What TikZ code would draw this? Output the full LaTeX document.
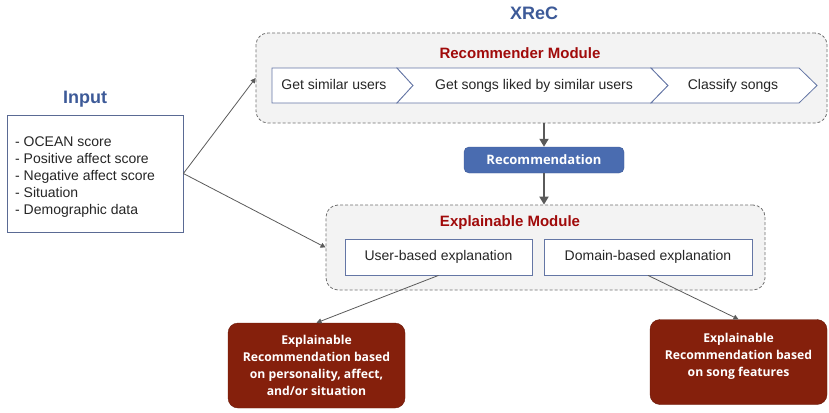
\documentclass[tikz,border=0pt]{standalone}
\usepackage{fontspec}
\setmainfont{Liberation Sans}
\newfontfamily\osans{Open Sans}
\usetikzlibrary{arrows.meta}
\definecolor{xblue}{RGB}{61,90,152}
\definecolor{xred}{RGB}{160,10,10}
\definecolor{berry}{RGB}{133,32,12}
\definecolor{recblue}{RGB}{74,108,176}
\definecolor{edgeblue}{RGB}{100,118,165}
\definecolor{modfill}{RGB}{243,243,243}
\definecolor{modline}{RGB}{110,110,110}
\definecolor{arrgray}{RGB}{90,90,90}

\begin{document}
\begin{tikzpicture}[x=1pt,y=-1pt,
		title/.style={font=\fontsize{18}{20}\selectfont\bfseries,text=xblue},
		modtitle/.style={font=\fontsize{15}{18}\selectfont\bfseries,text=xred},
		module/.style={draw=modline,fill=modfill,dash pattern=on 3pt off 2pt,line width=0.8pt,rounded corners=12pt},
		plain/.style={draw=edgeblue,fill=white,line width=0.8pt,font=\fontsize{14}{17}\selectfont,text=black!85},
		chevtext/.style={font=\fontsize{14}{17}\selectfont,text=black!85,text height=10pt,text depth=3pt},
		result/.style={draw=berry!80!black,fill=berry,rounded corners=10pt,text=white,align=center,
			font=\osans\bfseries\fontsize{12.2}{17}\selectfont,minimum width=177pt,minimum height=85pt},
		thin/.style={draw=arrgray,line width=0.8pt,-{Triangle[width=5pt,length=5pt]}},
		thick/.style={draw=arrgray,line width=1.8pt,-{Triangle[width=9pt,length=8pt]}}]
		\useasboundingbox (0,0) rectangle (829,412);
		
		\node[title] (xrec) at (534,13) {XReC};
		\node[title] (intitle) at (85,99) {Input};
		
		% input box
		\node[plain,draw=edgeblue!90!black,minimum width=176pt,minimum height=117pt] (inp) at (95,173.5) {};
		\node[font=\fontsize{14}{17}\selectfont,text=black!85,align=left,anchor=west,inner sep=0pt] (inptext) at (15,177)
		{- OCEAN score\\- Positive affect score\\- Negative affect score\\- Situation\\- Demographic data};
		
		% recommender module
		\node[module,minimum width=571pt,minimum height=90pt] (rec) at (541.5,78) {};
		\node[modtitle] (rectitle) at (520,53) {Recommender Module};
		\draw[plain] (272,68) -- (397,68) -- (413,85.5) -- (397,103) -- (272,103) -- cycle;
		\draw[plain] (397,68) -- (651,68) -- (668,85.5) -- (651,103) -- (397,103) -- (413,85.5) -- cycle;
		\draw[plain] (651,68) -- (799,68) -- (817,85.5) -- (799,103) -- (651,103) -- (668,85.5) -- cycle;
		\node[chevtext] (sim) at (334,86) {Get similar users};
		\node[chevtext] (songs) at (534,86) {Get songs liked by similar users};
		\node[chevtext] (cls) at (733,86) {Classify songs};
		
		\node[draw=xblue,fill=recblue,rounded corners=5pt,text=white,minimum width=160pt,minimum height=26pt,
			font=\osans\bfseries\fontsize{13}{15}\selectfont] (reco) at (544,160) {Recommendation};
		
		% explainable module
		\node[module,minimum width=439pt,minimum height=85pt] (expl) at (545.5,247.5) {};
		\node[modtitle] (expltitle) at (510,223) {Explainable Module};
		\node[plain,minimum width=187pt,minimum height=36pt] (user) at (438.5,257) {User-based explanation};
		\node[plain,minimum width=208pt,minimum height=36pt] (dom) at (648,257) {Domain-based explanation};
		
		\node[result] (resuser) at (316.5,365.5) {Explainable\\Recommendation based\\on personality, affect,\\and/or situation};
		\node[result,text depth=14pt] (resdom) at (738.5,362) {Explainable\\Recommendation based\\on song features};
		
		\draw[thin] (inp.east) -- (rec.west);
		\draw[thin] (inp.east) -- (expl.west);
		\draw[thick] (rec.south -| reco.north) -- (reco.north);
		\draw[thick] (reco.south) -- (expl.north -| reco.south);
		\draw[thin] (user.south) -- (resuser.north);
		\draw[thin] (dom.south) -- (resdom.north);
\end{tikzpicture}
\end{document}
